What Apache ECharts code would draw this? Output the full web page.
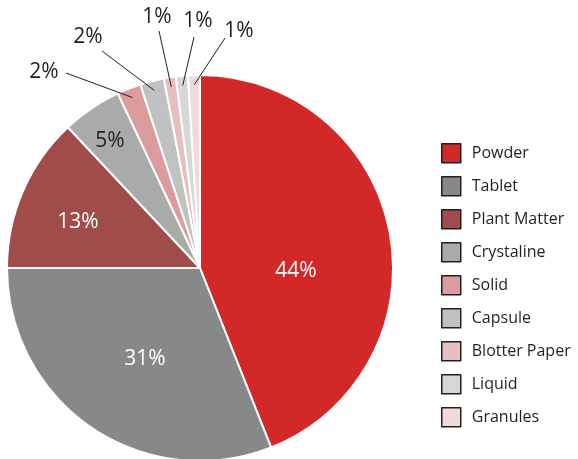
<!DOCTYPE html>
<html>
<head>
<meta charset="utf-8">
<script src="https://cdn.jsdelivr.net/npm/echarts@6/dist/echarts.min.js"></script>
<style>
  html, body { margin: 0; padding: 0; background: #fff; }
  #chart { width: 578px; height: 459px; }
</style>
</head>
<body>
<div id="chart"></div>
<script>
// data
const categories = ["Powder", "Tablet", "Plant Matter", "Crystaline", "Solid", "Capsule", "Blotter Paper", "Liquid", "Granules"];
const shares = [44, 31, 13, 5, 2, 2, 1, 1, 1];
const sliceColors = ["#d32828", "#87888a", "#a04c4b", "#a9aaaa", "#dc9b9c", "#c0c1c1", "#e6bebe", "#d6d8d8", "#f3dada"];

// label layout (pixel positions of label centres, leader line ends)
const pieCenter = [200, 268];
const pieRadius = 193;
const labelSpots = [[296, 271], [145, 359], [78, 222], [110, 141], [44, 72], [88, 37], [157, 17], [198, 21], [239, 31]];
const lineEnds = [null, null, null, null, [66, 73], [102, 51], [159, 31], [194, 37], [225, 38]];
const labelColors = ["#fff", "#fff", "#fff", "#231f20", "#231f20", "#231f20", "#231f20", "#231f20", "#231f20"];

const total = shares.reduce((a, b) => a + b, 0);

// angle (deg, clockwise from top) of a slice middle
function midAngle(i) {
  let before = 0;
  for (let k = 0; k < i; k++) before += shares[k];
  return ((before + shares[i] / 2) / total) * 360;
}

const chart = echarts.init(document.getElementById("chart"));

const option = {
  backgroundColor: "#fff",
  animation: false,
  legend: {
    orient: "vertical",
    left: 441,
    top: 143,
    padding: 0,
    itemWidth: 19,
    itemHeight: 19,
    itemGap: 12.5,
    icon: "rect",
    itemStyle: { borderColor: "#231f20", borderWidth: 1.5 },
    textStyle: {
      fontFamily: "Open Sans",
      fontSize: 16,
      color: "#231f20",
      lineHeight: 19,
      padding: [0, 0, 0, 6],
    },
    data: categories,
  },
  series: [
    // slices
    {
      type: "pie",
      center: pieCenter,
      radius: pieRadius,
      startAngle: 90,
      clockwise: true,
      itemStyle: { borderColor: "#fff", borderWidth: 2 },
      label: { show: false },
      labelLine: { show: false },
      data: categories.map((name, i) => ({
        name: name,
        value: shares[i],
        itemStyle: { color: sliceColors[i] },
      })),
    },
    // labels and leader lines drawn on top
    {
      type: "pie",
      z: 5,
      silent: true,
      center: pieCenter,
      radius: pieRadius,
      startAngle: 90,
      clockwise: true,
      avoidLabelOverlap: false,
      itemStyle: { color: "rgba(0,0,0,0)", borderWidth: 0 },
      label: {
        show: true,
        position: "outside",
        fontFamily: "Open Sans",
        fontSize: 21,
        formatter: "{d}%",
      },
      labelLine: {
        show: true,
        showAbove: true,
        lineStyle: { color: "#231f20", width: 1 },
      },
      labelLayout: function (params) {
        const i = params.dataIndex;
        const spot = labelSpots[i];
        const out = { x: spot[0], y: spot[1], align: "center", verticalAlign: "middle" };
        if (lineEnds[i]) {
          const a = (midAngle(i) * Math.PI) / 180;
          const r = pieRadius * 0.95;
          const start = [pieCenter[0] + r * Math.sin(a), pieCenter[1] - r * Math.cos(a)];
          out.labelLinePoints = [start, lineEnds[i], lineEnds[i]];
        }
        return out;
      },
      data: categories.map((name, i) => ({
        name: name,
        value: shares[i],
        label: { color: labelColors[i] },
        labelLine: { show: lineEnds[i] !== null },
      })),
    },
  ],
};

chart.setOption(option);
</script>
</body>
</html>
